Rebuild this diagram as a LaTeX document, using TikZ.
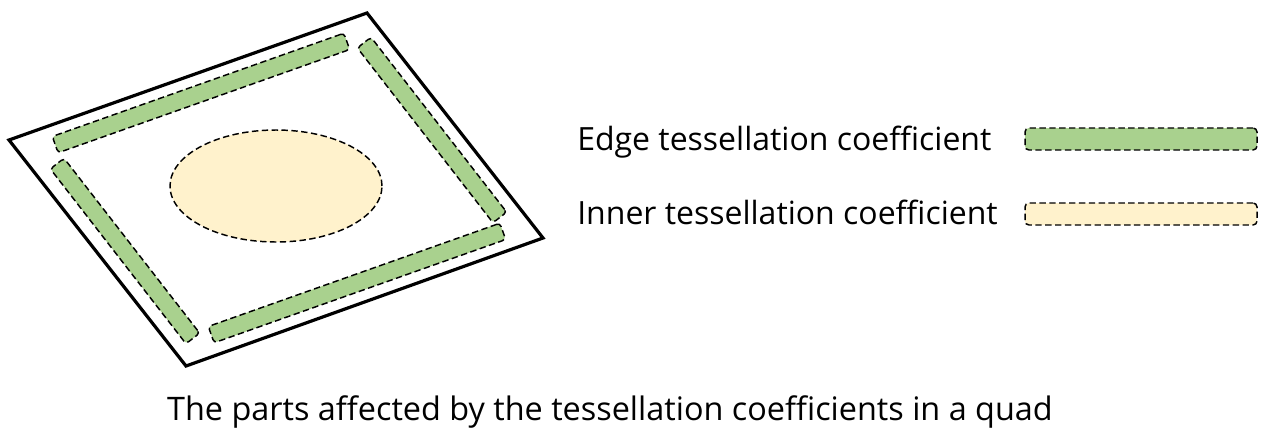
\documentclass[tikz,border=0pt]{standalone}
\usepackage{fontspec}
\setmainfont{Open Sans}
\usepackage{xcolor}
\usepackage{tikz}
\usetikzlibrary{positioning,shapes.geometric}
\definecolor{edgegreen}{HTML}{A9D18E}
\definecolor{innerbeige}{HTML}{FFF2CC}
\begin{document}
\begin{tikzpicture}[x=0.75pt, y=-0.75pt,
  outline/.style={draw, line width=1.1pt, dash pattern=on 4.8pt off 2.6pt},
  bar/.style={outline, fill=edgegreen, rounded corners=2.5pt, minimum width=232pt, minimum height=13pt, inner sep=0pt},
  sidebar/.style={bar, minimum width=166pt},
  inner/.style={outline, fill=innerbeige, ellipse, minimum width=159pt, minimum height=84pt, inner sep=0pt},
  legbar/.style={outline, rounded corners=3pt, minimum width=174pt, minimum height=16.5pt, inner sep=0pt},
  legtext/.style={font=\fontsize{24}{28}\selectfont, inner sep=0pt, anchor=base west}]
\useasboundingbox (0,0) rectangle (1280,443);
% quad outline
\coordinate (qt) at (367,13);
\coordinate (qr) at (543,238);
\coordinate (qb) at (186,366);
\coordinate (ql) at (9,140);
\draw[line width=2.4pt, line join=miter] (qt) -- (qr) -- (qb) -- (ql) -- cycle;
% edge parts
\node[bar, rotate=19.5] (etop) at (201,93) {};
\node[bar, rotate=19.5] (ebot) at (357,283) {};
\node[sidebar, rotate=-52.2] (eleft) at (125,251) {};
\node[sidebar, rotate=-52.2] (eright) at (432,130) {};
% inner part
\node[inner] (inpart) at (276,186) {};
% legend
\node[legtext] (edgetxt) at (577,150) {Edge tessellation coefficient};
\node[legtext] (innertxt) at (577,224) {Inner tessellation coefficient};
\node[legbar, fill=edgegreen] (edgekey) at (1141,139) {};
\node[legbar, fill=innerbeige] (innerkey) at (1141,214) {};
\node[legtext, anchor=base, font=\fontsize{24.3}{29}\selectfont] (caption) at (610,420) {The parts affected by the tessellation coefficients in a quad};
\end{tikzpicture}
\end{document}
